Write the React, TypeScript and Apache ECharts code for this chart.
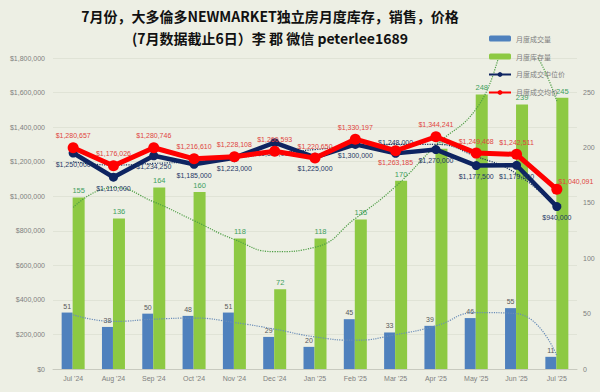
import React, { useEffect, useRef } from "react";
import * as echarts from "echarts";

const categories = ["Jul '24", "Aug '24", "Sep '24", "Oct '24", "Nov '24", "Dec '24", "Jan '25", "Feb '25", "Mar '25", "Apr '25", "May '25", "Jun '25", "Jul '25"];
const salesVolume = [51, 38, 50, 48, 51, 29, 20, 45, 33, 39, 46, 55, 11];
const inventory = [155, 136, 164, 160, 118, 72, 118, 135, 170, 199, 248, 239, 245];
const medianPrice = [1250000, 1110000, 1234250, 1185000, 1223000, 1310000, 1225000, 1300000, 1248000, 1270000, 1177500, 1179000, 940000];
const avgPrice = [1280657, 1176026, 1280746, 1216610, 1228108, 1260593, 1220650, 1330197, 1263185, 1344241, 1249468, 1242511, 1040091];
// dotted trend lines at each month
const salesTrend = [49, 43, 45, 46, 42, 36, 29, 26, 31, 39, 51, 50, 12];
const inventoryTrend = [146, 164, 151, 134, 117, 106, 110, 136, 165, 202, 235, 300, 242];
const medianTrend = [1200000, 1180000, 1190000, 1200000, 1220000, 1250000, 1270000, 1290000, 1300000, 1300000, 1230000, 1130000, 930000];

const titleLine1 = "7月份，大多倫多NEWMARKET独立房月度库存，销售，价格";
const titleLine2 = "(7月数据截止6日）李 郡 微信 peterlee1689";
const seriesNames = ["月度成交量", "月度库存量", "月度成交中位价", "月度成交均价"];
const avgLabelPos = ["top", "top", "top", "top", "top", "top", "top", "top", "bottom", "top", "top", "top", "top"];
const medianLabelPos = ["bottom", "bottom", "bottom", "bottom", "bottom", "bottom", "bottom", "bottom", "top", "bottom", "bottom", "bottom", "bottom"];

const FONT = "'Liberation Sans', 'Noto Sans CJK SC', sans-serif";
const money = (v: number) => "$" + Math.round(v).toLocaleString("en-US");

export default function App() {
  const ref = useRef<HTMLDivElement>(null);
  useEffect(() => {
    const chart = echarts.init(ref.current!, null, { renderer: "svg" });
    const last = categories.length - 1;
    chart.setOption({
      animation: false,
      backgroundColor: "#EDEFE4",
      textStyle: { fontFamily: FONT },
      graphic: [
        {
          type: "text", x: 270, y: 16,
          style: { text: titleLine1, fontSize: 14, fontWeight: "bold", fill: "#111", fontFamily: "'Noto Sans CJK SC', sans-serif", textAlign: "center", textVerticalAlign: "middle" },
        },
        {
          type: "text", x: 270, y: 38,
          style: { text: titleLine2, fontSize: 14, fontWeight: "bold", fill: "#111", fontFamily: "'Noto Sans CJK SC', sans-serif", textAlign: "center", textVerticalAlign: "middle" },
        },
      ],
      legend: {
        data: seriesNames,
        orient: "vertical",
        left: 483,
        top: 30,
        itemWidth: 22,
        itemHeight: 6,
        itemGap: 11,
        textStyle: { fontSize: 7, color: "#7F7F7F", fontFamily: "'Noto Sans CJK SC', sans-serif" },
      },
      grid: { left: 53, right: 23, top: 58, bottom: 23 },
      xAxis: {
        type: "category",
        data: categories,
        axisTick: { show: false },
        axisLine: { lineStyle: { color: "#C8CABF" } },
        axisLabel: { fontSize: 7, color: "#7F7F7F", margin: 6 },
      },
      yAxis: [
        {
          type: "value", min: 0, max: 1800000, interval: 200000,
          axisLabel: { fontSize: 7, color: "#7F7F7F", formatter: (v: number) => money(v), margin: 8 },
          splitLine: { lineStyle: { color: "#E0E3D6" } },
          axisLine: { show: false }, axisTick: { show: false },
        },
        {
          type: "value", min: 0, max: 281, interval: 50,
          axisLabel: { fontSize: 7, color: "#7F7F7F", margin: 6, formatter: (v: number) => (v % 50 === 0 ? String(v) : "") },
          splitLine: { show: false }, axisLine: { show: false }, axisTick: { show: false },
        },
      ],
      series: [
        {
          name: seriesNames[0], type: "bar", yAxisIndex: 1, data: salesVolume,
          barWidth: 11, barGap: "0%",
          itemStyle: { color: "#4F81BD" },
          label: { show: true, position: "top", fontSize: 7, color: "#595959", distance: 3 },
          z: 2,
        },
        {
          name: seriesNames[1], type: "bar", yAxisIndex: 1, data: inventory,
          barWidth: 12,
          itemStyle: { color: "#8DC943" },
          label: { show: true, position: "top", fontSize: 7.5, color: "#3FA060", distance: 3 },
          z: 2,
        },
        {
          name: "salesTrend", type: "line", yAxisIndex: 1, data: salesTrend, smooth: 0.5,
          symbol: "none", silent: true, clip: true,
          lineStyle: { color: "#6A8DB8", width: 1.2, type: "dotted" }, z: 3,
        },
        {
          name: "inventoryTrend", type: "line", yAxisIndex: 1, data: inventoryTrend, smooth: 0.5,
          symbol: "none", silent: true, clip: true,
          lineStyle: { color: "#4E9E45", width: 1.2, type: "dotted" }, z: 3,
        },
        {
          name: "medianTrend", type: "line", yAxisIndex: 0, data: medianTrend, smooth: 0.5,
          symbol: "none", silent: true, clip: true,
          lineStyle: { color: "#1F3864", width: 1.2, type: "dotted" }, z: 3,
        },
        {
          name: seriesNames[2], type: "line", yAxisIndex: 0,
          data: medianPrice.map((v, i) => ({
            value: v,
            label: { position: medianLabelPos[i] },
          })),
          symbol: "circle", symbolSize: 9,
          itemStyle: { color: "#0E2461" },
          lineStyle: { color: "#0E2461", width: 4.5 },
          label: { show: true, fontSize: 7, color: "#1F3864", distance: 3, formatter: (p: any) => money(p.value) },
          z: 4,
        },
        {
          name: seriesNames[3], type: "line", yAxisIndex: 0,
          data: avgPrice.map((v, i) => ({
            value: v,
            label: i === last ? { position: "top", offset: [19, 4] } : { position: avgLabelPos[i] },
          })),
          symbol: "circle", symbolSize: 11,
          itemStyle: { color: "#FF0000" },
          lineStyle: { color: "#FF0000", width: 5 },
          label: { show: true, fontSize: 7, color: "#E0453E", distance: 3, formatter: (p: any) => money(p.value) },
          z: 5,
        },
      ],
    });
    return () => chart.dispose();
  }, []);
  return (
    <div
      ref={ref}
      style={{ position: "fixed", left: 0, top: 0, width: 600, height: 392, background: "#EDEFE4" }}
    />
  );
}
